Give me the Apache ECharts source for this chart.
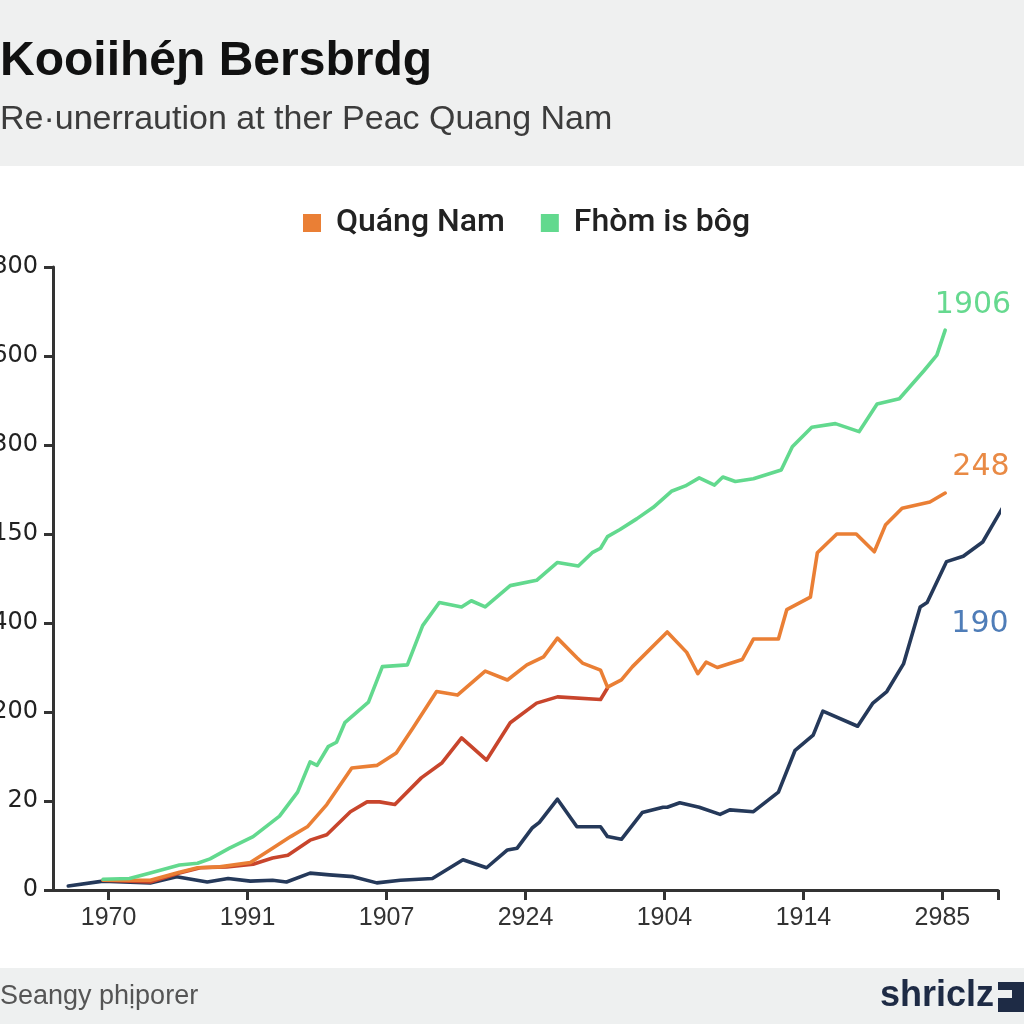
<!DOCTYPE html>
<html>
<head>
<meta charset="utf-8">
<script src="https://cdn.jsdelivr.net/npm/echarts@6/dist/echarts.min.js"></script>
<style>
html,body{margin:0;padding:0;background:#ffffff;}
#chart{width:1024px;height:1024px;}
</style>
</head>
<body>
<div id="chart"></div>
<script>
// ---- Data ----
const xTickValues = [4, 14, 24, 34, 44, 54, 64];
const xTickLabels = ['1970', '1991', '1907', '2924', '1904', '1914', '2985'];
const yTickLabels = ['0', '20', '200', '400', '150', '300', '600', '800'];

const legendNames = ['Quáng Nam', 'Fhòm is bôg'];

const greenX = [3.6, 5.5, 7.0, 9.1, 10.4, 11.3, 12.7, 14.4, 16.3, 17.6, 18.5, 19.0, 19.8, 20.4, 21.0, 22.7, 23.7, 25.5, 26.6, 27.8, 29.4, 30.1, 31.1, 32.9, 34.8, 36.3, 37.8, 38.8, 39.4, 39.9, 40.8, 42.0, 43.2, 44.5, 45.5, 46.5, 47.6, 48.2, 49.1, 50.4, 52.4, 53.2, 54.6, 56.3, 58.0, 59.3, 60.9, 62.7, 63.6, 64.2];
const greenY = [12, 13, 19, 28, 30, 35, 47, 60, 83, 110, 144, 140, 161, 166, 188, 211, 251, 253, 297, 323, 318, 325, 318, 342, 348, 368, 364, 379, 384, 397, 405, 417, 430, 448, 454, 463, 455, 464, 459, 462, 472, 498, 520, 524, 515, 546, 552, 584, 601, 629];

const orangeX = [3.6, 7.0, 9.1, 10.4, 12.0, 14.2, 15.8, 17.1, 18.3, 19.7, 21.5, 23.3, 24.7, 25.9, 27.6, 29.1, 31.1, 32.7, 34.1, 35.3, 36.3, 37.7, 38.1, 39.4, 39.9, 40.9, 41.7, 44.2, 45.6, 46.4, 47.0, 47.8, 49.6, 50.4, 52.2, 52.8, 54.5, 55.0, 56.4, 57.8, 59.1, 59.9, 61.1, 63.1, 64.2];
const orangeY = [11, 11, 20, 25, 26, 31, 47, 60, 71, 96, 137, 140, 154, 182, 223, 219, 246, 236, 253, 262, 283, 261, 255, 247, 228, 236, 251, 290, 267, 243, 256, 250, 259, 282, 282, 315, 329, 379, 400, 400, 380, 410, 429, 436, 446];

const redX = [3.6, 7.0, 9.1, 10.6, 12.5, 14.4, 15.8, 16.9, 18.5, 19.7, 21.4, 22.6, 23.5, 24.6, 26.5, 28.0, 29.4, 31.2, 32.9, 34.8, 36.3, 39.4, 39.9];
const redY = [11, 9, 19, 25, 26, 29, 36, 39, 56, 62, 88, 99, 99, 96, 126, 143, 171, 146, 188, 210, 217, 214, 227];

const navyX = [1.1, 3.6, 7.0, 8.9, 11.1, 12.6, 14.2, 15.8, 16.8, 18.5, 19.9, 21.6, 23.3, 25.0, 27.3, 29.5, 31.2, 32.7, 33.4, 34.5, 35.0, 36.3, 37.7, 39.4, 39.9, 40.9, 42.4, 43.9, 44.2, 45.1, 46.5, 48.0, 48.7, 50.4, 52.2, 53.4, 54.7, 55.4, 57.9, 59.0, 60.0, 61.2, 62.4, 62.9, 64.3, 65.5, 66.9, 68.5];
const navyY = [4.5, 10, 8, 15, 9, 13, 10, 11, 9, 19, 17, 15, 8, 11, 13, 34, 25, 45, 47, 70, 76, 102, 71, 71, 60, 57, 87, 93, 93, 98, 93, 85, 90, 88, 110, 157, 174, 201, 184, 210, 223, 254, 318, 323, 369, 375, 391, 434];

const endLabels = ['1906', '248', '190'];

// ---- Build ----
const zip = (xs, ys) => xs.map((x, i) => [x, ys[i]]);
const chart = echarts.init(document.getElementById('chart'), null, {renderer: 'canvas'});

function lineSeries(name, color, data) {
  return {
    name: name,
    type: 'line',
    data: data,
    symbol: 'none',
    clip: false,
    lineStyle: {color: color, width: 3.6, cap: 'round', join: 'round'},
    itemStyle: {color: color},
    emphasis: {disabled: true},
    animation: false
  };
}

const option = {
  backgroundColor: '#ffffff',
  animation: false,
  grid: {left: 53, top: 267, right: 26, bottom: 134, containLabel: false, outerBoundsMode: 'none'},
  legend: {
    data: legendNames,
    top: 202,
    left: 298,
    icon: 'rect',
    itemWidth: 18,
    itemHeight: 18,
    itemGap: 36,
    textStyle: {fontFamily: 'Roboto', fontSize: 32, fontWeight: 500, color: '#222222', padding: [0, 0, 0, 10]}
  },
  xAxis: {
    type: 'value',
    min: 0,
    max: 68,
    splitLine: {show: false},
    axisLine: {show: true, lineStyle: {color: '#333333', width: 3}},
    axisTick: {show: true, length: 10, lineStyle: {color: '#333333', width: 3}, customValues: xTickValues.concat([68])},
    axisLabel: {
      customValues: xTickValues,
      margin: 16,
      fontFamily: 'Liberation Sans',
      fontSize: 25,
      color: '#333333',
      formatter: function (v) { const i = xTickValues.indexOf(v); return i >= 0 ? xTickLabels[i] : ''; }
    }
  },
  yAxis: {
    type: 'value',
    min: 0,
    max: 700,
    interval: 100,
    splitLine: {show: false},
    axisLine: {show: true, lineStyle: {color: '#333333', width: 3}},
    axisTick: {show: true, length: 9, lineStyle: {color: '#333333', width: 3}},
    axisLabel: {
      margin: 15,
      fontFamily: 'DejaVu Sans',
      fontSize: 24,
      color: '#222222',
      formatter: function (v) { return yTickLabels[Math.round(v / 100)]; }
    }
  },
  series: [
    lineSeries('navy', '#25395a', zip(navyX, navyY)),
    lineSeries('red', '#c8452c', zip(redX, redY)),
    lineSeries(legendNames[0], '#ea7f35', zip(orangeX, orangeY)),
    lineSeries(legendNames[1], '#62d98e', zip(greenX, greenY))
  ],
  graphic: [
    {type: 'rect', z: -10, shape: {x: 0, y: 0, width: 1024, height: 166}, style: {fill: '#eff0f0'}},
    {type: 'rect', z: -10, shape: {x: 0, y: 968, width: 1024, height: 56}, style: {fill: '#eef0f0'}},
    {type: 'text', left: 0, top: 38, style: {text: 'Kooiihéɲ Bersbrdg', font: 'bold 48px "Liberation Sans"', fill: '#111111'}},
    {type: 'text', left: 0, top: 103, style: {text: 'Re·unerraution at ther Peac Quang Nam', font: '34px "Liberation Sans"', fill: '#3c3c3c'}},
    {type: 'text', left: 0, top: 983, style: {text: 'Seangy phịporer', font: '27px "Liberation Sans"', fill: '#555555'}},
    {type: 'text', right: 30, top: 978, style: {text: 'shriclz', font: 'bold 36px "Liberation Sans"', fill: '#1e2b45'}},
    {type: 'polygon', shape: {points: [[998, 982], [1024, 982], [1024, 1012], [998, 1012], [998, 998], [1012, 998], [1012, 990], [998, 990]]}, style: {fill: '#1e2b45'}},
    {type: 'text', x: 973, y: 305, style: {text: endLabels[0], font: '30px "DejaVu Sans"', fill: '#66d98f', align: 'center', verticalAlign: 'middle'}},
    {type: 'text', x: 981, y: 467, style: {text: endLabels[1], font: '30px "DejaVu Sans"', fill: '#e98a45', align: 'center', verticalAlign: 'middle'}},
    {type: 'text', x: 980, y: 624, style: {text: endLabels[2], font: '30px "DejaVu Sans"', fill: '#4f7db8', align: 'center', verticalAlign: 'middle'}}
  ]
};
chart.setOption(option);
</script>
</body>
</html>
